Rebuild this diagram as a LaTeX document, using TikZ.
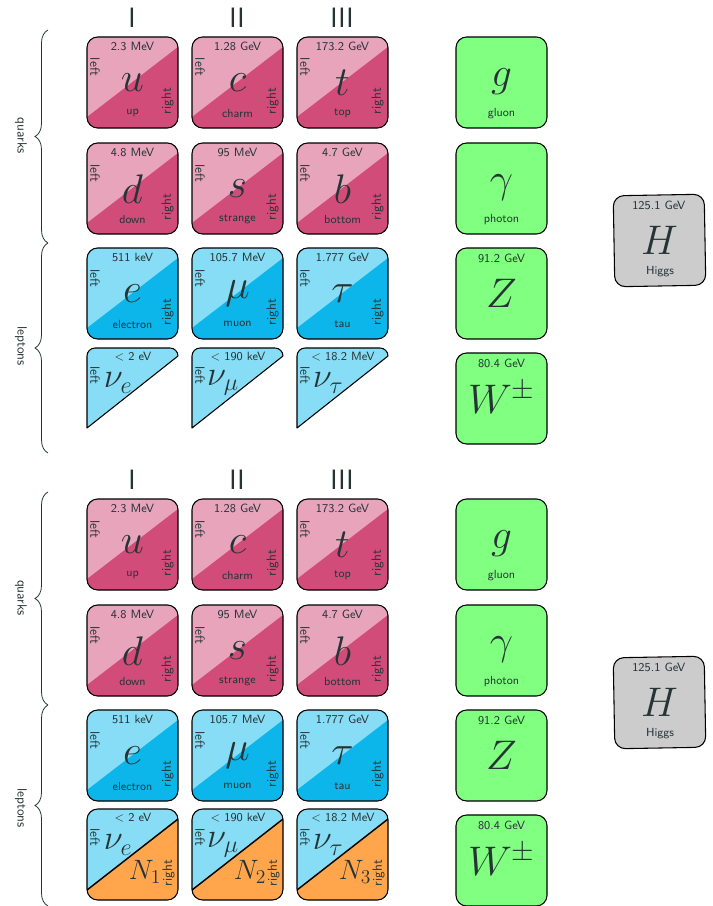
\RequirePackage{fix-cm}
\documentclass[tikz,border=0pt]{standalone}
\usepackage{fontspec}
\usetikzlibrary{decorations.pathreplacing}
\definecolor{txt}{RGB}{38,52,54}
\definecolor{qlight}{RGB}{232,164,186}
\definecolor{qdark}{RGB}{209,76,121}
\definecolor{llight}{RGB}{135,221,245}
\definecolor{ldark}{RGB}{12,182,234}
\definecolor{gauge}{RGB}{128,255,128}
\definecolor{higgs}{RGB}{204,204,204}
\definecolor{sterile}{RGB}{255,166,77}
\tikzset{
  boxline/.style={draw=black, line width=0.8pt, rounded corners=8},
  mass/.style={font=\sffamily\fontsize{9}{10}\selectfont, text=txt, inner sep=0pt},
  lbl/.style={font=\sffamily\fontsize{8.8}{10}\selectfont, text=txt, inner sep=0pt},
  side/.style={font=\sffamily\fontsize{10}{11}\selectfont, text=txt, inner sep=0pt},
  sym/.style={font=\fontsize{31}{31}\selectfont, text=txt, inner sep=0pt},
  nusym/.style={font=\fontsize{26}{26}\selectfont, text=txt, inner sep=0pt},
  nsym/.style={font=\fontsize{21}{21}\selectfont, text=txt, inner sep=0pt},
  gen/.style={font=\sffamily\fontsize{21}{21}\selectfont, text=txt, inner sep=0pt},
  cat/.style={font=\sffamily\fontsize{10}{12}\selectfont, text=txt, inner sep=0pt},
  bracestyle/.style={draw=txt, line width=0.6pt, decorate, decoration={brace, amplitude=9.75pt}},
}
% fermion box: name, x, y, light, dark, mass, symbol, particle
\newcommand\fermionbox[8]{%
  \begin{scope}[shift={(#2,#3)}]
    \fill[#4, rounded corners=8] (0,0) rectangle (91,91);
    \begin{scope}
      \clip[rounded corners=8] (0,0) rectangle (91,91);
      \fill[#5] (0,80) -- (91,10) -- (91,91) -- (0,91) -- cycle;
    \end{scope}
    \draw[boxline] (0,0) rectangle (91,91);
    \node[mass] (#1m) at (45.5,9) {#6};
    \node[sym] (#1s) at (45.5,46) {$#7$};
    \node[lbl] (#1n) at (45.5,76) {#8};
    \node[side, rotate=-90] (#1l) at (8,30) {left};
    \node[side, rotate=90] (#1r) at (80.5,64) {right};
  \end{scope}}
% gauge box: name, x, y, fill, mass, symbol, particle
\newcommand\gaugebox[7]{%
  \begin{scope}[shift={(#2,#3)}]
    \fill[#4, rounded corners=8] (0,0) rectangle (91,91);
    \draw[boxline] (0,0) rectangle (91,91);
    \node[mass] (#1m) at (45.5,10) {#5};
    \node[sym] (#1s) at (45.5,45) {$#6$};
    \node[lbl] (#1n) at (45.5,77) {#7};
  \end{scope}}
% neutrino triangle: name, x, y, mass, symbol
\newcommand\nutri[5]{%
  \begin{scope}[shift={(#2,#3)}]
    \path[fill=llight, draw=black, line width=0.8pt, line join=round]
      (0,80) -- (0,8) arc[start angle=180, end angle=270, radius=8]
      -- (83,0) arc[start angle=270, end angle=360, radius=8] -- cycle;
    \node[mass] (#1m) at (46,8.5) {#4};
    \node[nusym] (#1s) at (31,35) {$#5$};
    \node[side, rotate=-90] (#1l) at (8,27) {left};
  \end{scope}}
% neutrino square: name, x, y, mass, symbol, heavy
\newcommand\nusq[6]{%
  \begin{scope}[shift={(#2,#3)}]
    \fill[llight, rounded corners=8] (0,0) rectangle (91,91);
    \begin{scope}
      \clip[rounded corners=8] (0,0) rectangle (91,91);
      \fill[sterile] (0,81) -- (91,10) -- (91,91) -- (0,91) -- cycle;
      \draw[black, line width=1.1pt] (0,81) -- (91,10);
    \end{scope}
    \draw[boxline] (0,0) rectangle (91,91);
    \node[mass] (#1m) at (46,8.5) {#4};
    \node[nusym] (#1s) at (31,36) {$#5$};
    \node[nsym] (#1h) at (58,63) {$#6$};
    \node[side, rotate=-90] (#1l) at (8,28) {left};
    \node[side, rotate=90] (#1r) at (81.5,64) {right};
  \end{scope}}
% common part of each half: suffix
\newcommand\commonhalf[1]{%
  \node[gen] (genI#1) at (132,18) {I};
  \node[gen] (genII#1) at (237,18) {II};
  \node[gen] (genIII#1) at (342,18) {III};
  \fermionbox{u#1}{87}{37}{qlight}{qdark}{2.3 MeV}{u}{up}
  \fermionbox{c#1}{192}{37}{qlight}{qdark}{1.28 GeV}{c}{charm}
  \fermionbox{t#1}{297}{37}{qlight}{qdark}{173.2 GeV}{t}{top}
  \fermionbox{d#1}{87}{143}{qlight}{qdark}{4.8 MeV}{d}{down}
  \fermionbox{s#1}{192}{143}{qlight}{qdark}{95 MeV}{s}{strange}
  \fermionbox{b#1}{297}{143}{qlight}{qdark}{4.7 GeV}{b}{bottom}
  \fermionbox{e#1}{87}{248}{llight}{ldark}{511 keV}{e}{electron}
  \fermionbox{mu#1}{192}{248}{llight}{ldark}{105.7 MeV}{\mu}{muon}
  \fermionbox{tau#1}{297}{248}{llight}{ldark}{1.777 GeV}{\tau}{tau}
  \gaugebox{g#1}{456}{37}{gauge}{}{g}{gluon}
  \gaugebox{ph#1}{456}{143}{gauge}{}{\gamma}{photon}
  \gaugebox{Z#1}{456}{248}{gauge}{91.2 GeV}{Z}{}
  \gaugebox{W#1}{456}{353}{gauge}{80.4 GeV}{W^{\pm}}{}
  \begin{scope}[rotate around={1:(659.5,240.5)}]
    \gaugebox{H#1}{614}{195}{higgs}{125.1 GeV}{H}{Higgs}
  \end{scope}
}
\begin{document}
\begin{tikzpicture}[x=0.75pt,y=-0.75pt]
\useasboundingbox (0,0) rectangle (713,906);
\fill[white] (0,0) rectangle (713,906);
% ---------- top half ----------
\commonhalf{T}
\nutri{nueT}{87}{348}{$<$ 2 eV}{\nu_e}
\nutri{numuT}{192}{348}{$<$ 190 keV}{\nu_\mu}
\nutri{nutauT}{297}{348}{$<$ 18.2 MeV}{\nu_\tau}
\coordinate (qaT) at (48,30);
\coordinate (qbT) at (48,243);
\coordinate (laT) at (48,243);
\coordinate (lbT) at (48,453);
\draw[bracestyle] (qbT) -- (qaT);
\draw[bracestyle] (lbT) -- (laT);
\node[cat, rotate=-90] (quarksT) at (21,136) {quarks};
\node[cat, rotate=-90] (leptonsT) at (21,346) {leptons};
% ---------- bottom half ----------
\begin{scope}[shift={(0,462)}]
\commonhalf{B}
\nusq{nueB}{87}{347}{$<$ 2 eV}{\nu_e}{N_1}
\nusq{numuB}{192}{347}{$<$ 190 keV}{\nu_\mu}{N_2}
\nusq{nutauB}{297}{347}{$<$ 18.2 MeV}{\nu_\tau}{N_3}
\coordinate (qaB) at (48,30);
\coordinate (qbB) at (48,243);
\coordinate (laB) at (48,243);
\coordinate (lbB) at (48,444);
\draw[bracestyle] (qbB) -- (qaB);
\draw[bracestyle] (lbB) -- (laB);
\node[cat, rotate=-90] (quarksB) at (21,136) {quarks};
\node[cat, rotate=-90] (leptonsB) at (21,346) {leptons};
\end{scope}
\end{tikzpicture}
\end{document}
